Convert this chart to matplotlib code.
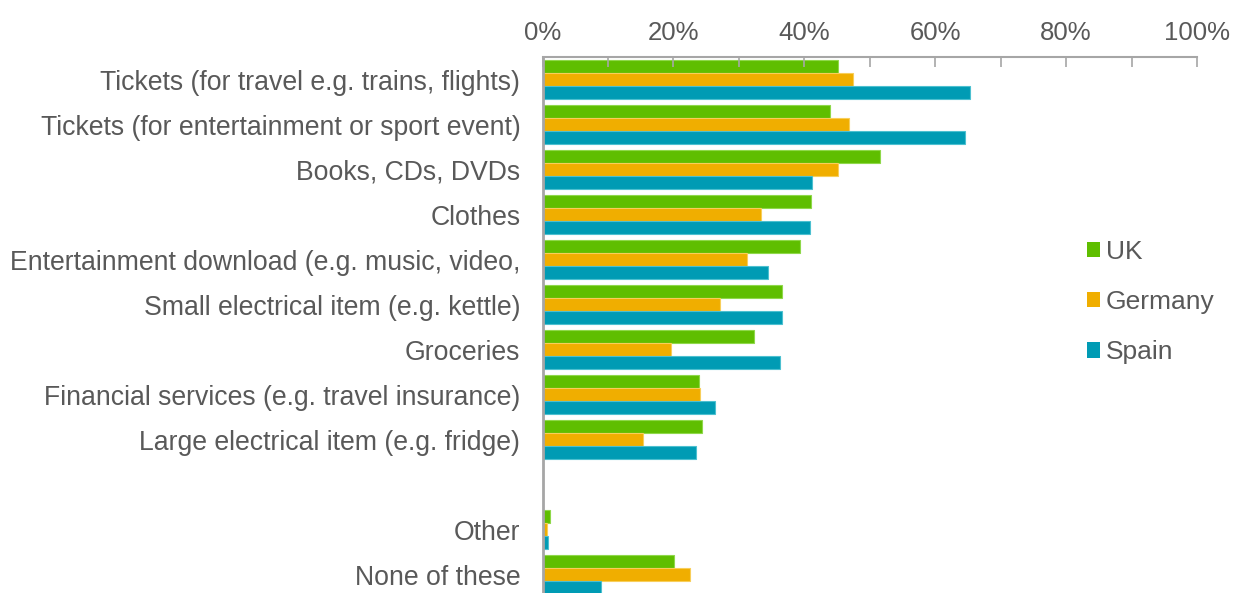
# -----------------------------
# Import Libraries
# -----------------------------
import numpy as np
import matplotlib.pyplot as plt
from matplotlib.patches import Patch
from matplotlib.ticker import MultipleLocator, PercentFormatter

plt.rcParams["font.family"] = ["Liberation Sans", "DejaVu Sans"]

# -----------------------------
# Data (share of respondents, %)
# -----------------------------
categories = [
    "Tickets (for travel e.g. trains, flights)",
    "Tickets (for entertainment or sport event)",
    "Books, CDs, DVDs",
    "Clothes",
    "Entertainment download (e.g. music, video,",
    "Small electrical item (e.g. kettle)",
    "Groceries",
    "Financial services (e.g. travel insurance)",
    "Large electrical item (e.g. fridge)",
    "",
    "Other",
    "None of these",
]

uk = [45.2, 43.9, 51.6, 41.1, 39.4, 36.6, 32.3, 23.9, 24.4, None, 1.2, 20.1]
germany = [47.4, 46.9, 45.2, 33.4, 31.2, 27.1, 19.7, 24.0, 15.3, None, 0.7, 22.6]
spain = [65.3, 64.5, 41.2, 40.9, 34.4, 36.6, 36.3, 26.4, 23.4, None, 0.9, 8.9]

countries = ["UK", "Germany", "Spain"]
colors = ["#5FBE00", "#F0AE00", "#009BB4"]
edges = ["#8FD84A", "#F8CE5A", "#4CC0D0"]

text_color = "#595959"
axis_color = "#A6A6A6"

# -----------------------------
# Plot
# -----------------------------
fig = plt.figure(figsize=(12.35, 5.93), dpi=100)
ax = fig.add_axes([542.5 / 1235, 0, (1197 - 542.5) / 1235, (593 - 57) / 593])

y = np.arange(len(categories))
bar_h = 0.29

for k, (series, color, edge) in enumerate(zip([uk, germany, spain], colors, edges)):
    vals = np.array([np.nan if v is None else v for v in series], dtype=float)
    ax.barh(
        y + (k - 1) * bar_h,
        vals,
        height=bar_h,
        color=color,
        edgecolor=edge,
        linewidth=0.8,
    )

ax.set_xlim(0, 100)
ax.set_ylim(11.41, -0.504)

ax.set_yticks(y)
ax.set_yticklabels(categories, fontsize=19.2, color=text_color)
ax.tick_params(axis="y", length=0, pad=16)

ax.xaxis.set_major_locator(MultipleLocator(20))
ax.xaxis.set_minor_locator(MultipleLocator(10))
ax.xaxis.set_major_formatter(PercentFormatter(decimals=0))
ax.xaxis.tick_top()
ax.tick_params(axis="x", which="both", direction="in", length=7,
               width=1.2, color=axis_color, labelsize=18.5,
               labelcolor=text_color, pad=9)

ax.spines["right"].set_visible(False)
ax.spines["bottom"].set_visible(False)
ax.spines["top"].set_color(axis_color)
ax.spines["top"].set_linewidth(1.5)
ax.spines["left"].set_color(axis_color)
ax.spines["left"].set_linewidth(2)

# -----------------------------
# Legend
# -----------------------------
handles = [Patch(facecolor=c, edgecolor="none") for c in colors]
fig.legend(
    handles,
    countries,
    loc="center left",
    bbox_to_anchor=(1063 / 1235, 1 - 302 / 593),
    frameon=False,
    fontsize=19,
    labelcolor=text_color,
    handlelength=0.5,
    handleheight=0.5,
    handletextpad=0.23,
    labelspacing=1.0,
)

plt.savefig("out.png", dpi=100)
